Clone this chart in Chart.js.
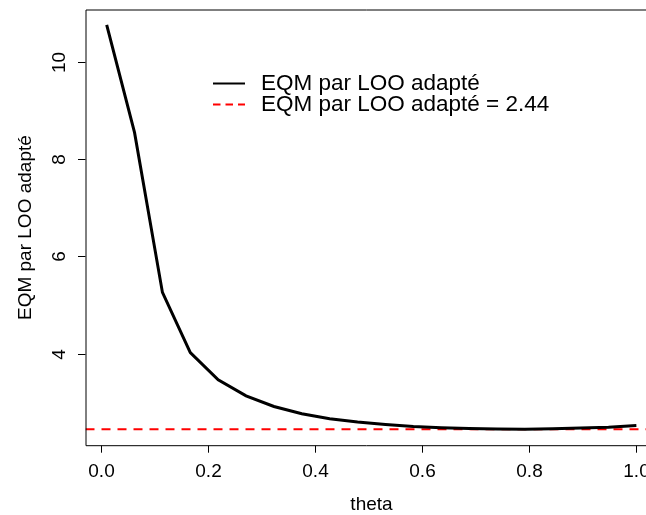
<!DOCTYPE html>
<html>
<head>
<meta charset="utf-8">
<script src="https://cdn.jsdelivr.net/npm/chart.js@4/dist/chart.umd.min.js"></script>
<style>
  html, body { margin:0; padding:0; background:#fff; }
  canvas { display:block; }
</style>
</head>
<body>
<canvas id="chartEqm" width="646" height="515"></canvas>
<script>
// ── DATA ──────────────────────────────────────────────
var thetaValues = [0.01, 0.0621, 0.1142, 0.1663, 0.2184, 0.2705, 0.3226, 0.3747, 0.4268, 0.4789,
                   0.5311, 0.5832, 0.6353, 0.6874, 0.7395, 0.7916, 0.8437, 0.8958, 0.9479, 1.0];
var eqmValues   = [10.77, 8.55, 5.26, 4.02, 3.46, 3.13, 2.91, 2.76, 2.66, 2.59,
                   2.54, 2.50, 2.475, 2.455, 2.445, 2.44, 2.45, 2.465, 2.485, 2.52];
var eqmMin = 2.44;
var xTicks = [0, 0.2, 0.4, 0.6, 0.8, 1.0];
var yTicks = [4, 6, 8, 10];
var xLimits = [-0.0296, 1.018];
var yLimits = [2.103, 11.087];
var xTitle = 'theta';
var yTitle = 'EQM par LOO adapté';
var legendLabels = ['EQM par LOO adapté', 'EQM par LOO adapté = ' + eqmMin];

var FONT = '"Liberation Sans", Arial, Helvetica, sans-serif';

// ── R-style axes, box and legend ──────────────────────
var rAxesPlugin = {
  id: 'rAxes',
  afterDraw: function(chart){
    var ctx = chart.ctx, a = chart.chartArea;
    var xs = chart.scales.x, ys = chart.scales.y;
    ctx.save();
    ctx.strokeStyle = '#000';
    ctx.lineWidth = 1;

    // box (right side falls outside the canvas)
    ctx.beginPath();
    ctx.moveTo(chart.width + 5, a.top + 0.5);
    ctx.lineTo(a.left + 0.5, a.top + 0.5);
    ctx.lineTo(a.left + 0.5, a.bottom);
    ctx.lineTo(chart.width + 5, a.bottom);
    ctx.stroke();

    // x ticks + labels
    ctx.fillStyle = '#000';
    ctx.font = '19px ' + FONT;
    ctx.textAlign = 'center';
    ctx.textBaseline = 'middle';
    xTicks.forEach(function(v){
      var px = Math.round(xs.getPixelForValue(v)) + 0.5;
      ctx.beginPath();
      ctx.moveTo(px, a.bottom);
      ctx.lineTo(px, a.bottom + 7);
      ctx.stroke();
      ctx.fillText(v.toFixed(1), px, 472);
    });

    // y ticks + rotated labels
    yTicks.forEach(function(v){
      var py = Math.round(ys.getPixelForValue(v)) + 0.5;
      ctx.beginPath();
      ctx.moveTo(a.left, py);
      ctx.lineTo(a.left - 7.5, py);
      ctx.stroke();
      ctx.save();
      ctx.translate(60, py);
      ctx.rotate(-Math.PI / 2);
      ctx.fillText(String(v), 0, 0);
      ctx.restore();
    });

    // axis titles
    ctx.fillText(xTitle, 371.5, 505);
    ctx.save();
    ctx.translate(25.5, (a.top + a.bottom) / 2);
    ctx.rotate(-Math.PI / 2);
    ctx.fillText(yTitle, 0, 0);
    ctx.restore();

    // legend
    ctx.font = '22.5px ' + FONT;
    ctx.textAlign = 'left';
    ctx.lineWidth = 2;
    ctx.strokeStyle = '#000';
    ctx.beginPath(); ctx.moveTo(213, 83.5); ctx.lineTo(245, 83.5); ctx.stroke();
    ctx.fillText(legendLabels[0], 261, 84);
    ctx.strokeStyle = '#ff0000';
    ctx.setLineDash([7.5, 5]);
    ctx.beginPath(); ctx.moveTo(213, 104.5); ctx.lineTo(245, 104.5); ctx.stroke();
    ctx.setLineDash([]);
    ctx.fillText(legendLabels[1], 261, 105);
    ctx.restore();
  }
};

new Chart(document.getElementById('chartEqm'), {
  type: 'line',
  data: {
    datasets: [
      {
        label: legendLabels[0],
        data: thetaValues.map(function(t, i){ return { x: t, y: eqmValues[i] }; }),
        borderColor: '#000',
        borderWidth: 3,
        pointRadius: 0,
        tension: 0,
        fill: false
      },
      {
        label: legendLabels[1],
        data: [{ x: xLimits[0], y: eqmMin }, { x: xLimits[1], y: eqmMin }],
        borderColor: '#ff0000',
        borderWidth: 2,
        borderDash: [9, 7],
        pointRadius: 0,
        fill: false
      }
    ]
  },
  options: {
    responsive: false,
    animation: false,
    layout: { padding: { left: 85.5, top: 9.5, right: 0, bottom: 69.3 } },
    plugins: { legend: { display: false }, tooltip: { enabled: false } },
    scales: {
      x: { type: 'linear', min: xLimits[0], max: xLimits[1], display: false },
      y: { type: 'linear', min: yLimits[0], max: yLimits[1], display: false }
    }
  },
  plugins: [rAxesPlugin]
});
</script>
</body>
</html>
